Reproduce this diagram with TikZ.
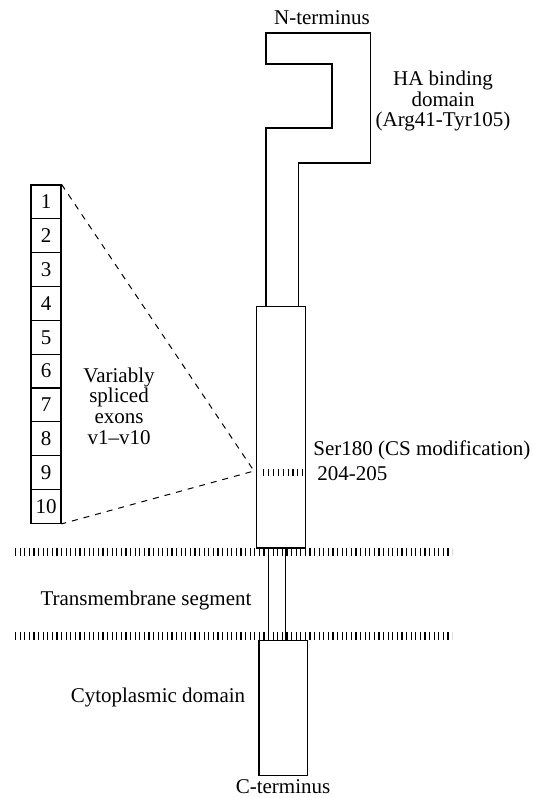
\documentclass[tikz,border=0pt]{standalone}
\usepackage{fontspec}
\setmainfont{Liberation Serif}
\usetikzlibrary{positioning}

\begin{document}
\begin{tikzpicture}[
        x=0.5pt, y=-0.5pt,
        every node/.style={font=\fontsize{10.5}{10.3}\selectfont, inner sep=0pt},
        part/.style={draw, line width=0.6pt},
        exon/.style={draw, line width=0.6pt, minimum width=15pt, minimum height=16.9pt},
        membrane/.style={line width=4pt, dash pattern=on 0.55pt off 1.75pt},
        site/.style={line width=3.5pt, dash pattern=on 0.55pt off 1.9pt},
        zoomline/.style={dashed, line width=0.5pt}
    ]
        \useasboundingbox (0,0) rectangle (532,798);

        % Domains of the protein
        \node[part, minimum width=8.7pt, minimum height=46.3pt] (tm) at (277,594.3) {};
        \node[part, fill=white, minimum width=24.5pt, minimum height=120.6pt] (ecto) at (281.2,427.3) {};
        \node[part, fill=white, minimum width=24.2pt, minimum height=67.5pt] (cyto) at (283.2,708.2) {};
        \draw[part] (266,306.7) -- (266,128) -- (332,128) -- (332,64) -- (266,64) -- (266,33)
            -- (370.7,33) -- (370.7,163) -- (298.3,163) -- (298.3,306.7);

        % Membrane
        \draw[membrane] (15,552) -- (452,552);
        \draw[membrane] (15,636) -- (452,636);

        % Variably spliced exons
        \foreach \i in {1,...,10}
            \node[exon] (e\i) at (46,{185+33.83*(\i-0.5)}) {\i};

        % Insertion site
        \coordinate (ins) at (254,471);
        \draw[site] (263,472.7) -- (304,472.7);
        \draw[zoomline] (e1.north east) -- (ins) -- (e10.south east);

        % Labels
        \node (nterm) at (322,18) {N-terminus};
        \node[align=center] (ha) at (443,101) {HA binding\\domain\\(Arg41-Tyr105)};
        \node[anchor=west] (ser) at (313,450) {Ser180 (CS modification)};
        \node[anchor=west] (res) at (317,474) {204-205};
        \node[align=center] (var) at (119,406) {Variably\\spliced\\exons\\v1--v10};
        \node (tmlabel) at (146,600) {Transmembrane segment};
        \node (cylabel) at (158,697) {Cytoplasmic domain};
        \node (cterm) at (283,787) {C-terminus};
    \end{tikzpicture}
\end{document}
